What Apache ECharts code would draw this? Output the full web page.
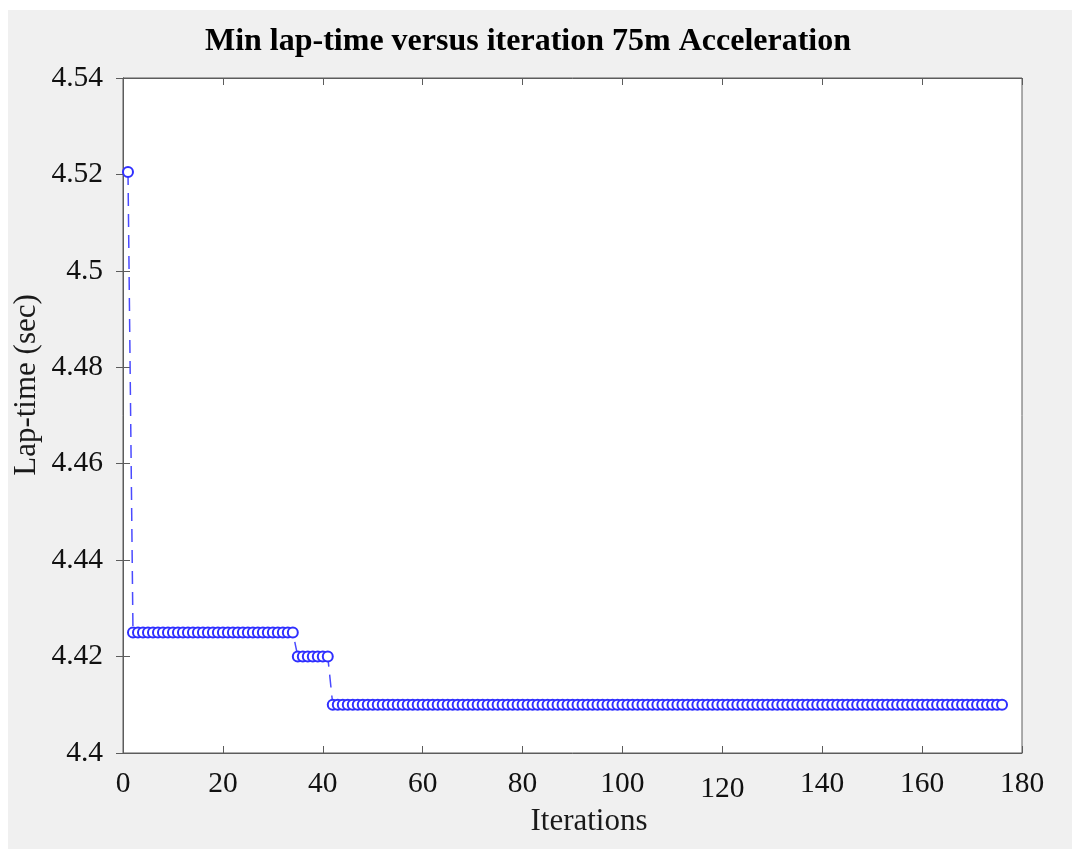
<!DOCTYPE html>
<html>
<head>
<meta charset="utf-8">
<script src="https://cdn.jsdelivr.net/npm/echarts@6/dist/echarts.min.js"></script>
<style>
  html, body { margin: 0; padding: 0; background: #ffffff; }
  #chart { position: absolute; left: 8px; top: 10px; width: 1064px; height: 839px; }
</style>
</head>
<body>
<div id="chart"></div>
<script>
// Best lap time found so far at each optimiser iteration (75 m acceleration event)
const chartTitle = 'Min lap-time versus iteration 75m Acceleration';
const xAxisTitle = 'Iterations';
const yAxisTitle = 'Lap-time (sec)';

const xTicks = [0, 20, 40, 60, 80, 100, 120, 140, 160, 180];
const yTickLabels = ['4.4', '4.42', '4.44', '4.46', '4.48', '4.5', '4.52', '4.54'];

const lapTime = [
  4.5205,
  4.425, 4.425, 4.425, 4.425, 4.425, 4.425, 4.425, 4.425, 4.425, 4.425, 4.425,
  4.425, 4.425, 4.425, 4.425, 4.425, 4.425, 4.425, 4.425, 4.425, 4.425, 4.425,
  4.425, 4.425, 4.425, 4.425, 4.425, 4.425, 4.425, 4.425, 4.425, 4.425, 4.425,
  4.42, 4.42, 4.42, 4.42, 4.42, 4.42, 4.42,
  4.41, 4.41, 4.41, 4.41, 4.41, 4.41, 4.41, 4.41, 4.41, 4.41, 4.41, 4.41, 4.41, 4.41, 4.41,
  4.41, 4.41, 4.41, 4.41, 4.41, 4.41, 4.41, 4.41, 4.41, 4.41, 4.41, 4.41, 4.41, 4.41, 4.41,
  4.41, 4.41, 4.41, 4.41, 4.41, 4.41, 4.41, 4.41, 4.41, 4.41, 4.41, 4.41, 4.41, 4.41, 4.41,
  4.41, 4.41, 4.41, 4.41, 4.41, 4.41, 4.41, 4.41, 4.41, 4.41, 4.41, 4.41, 4.41, 4.41, 4.41,
  4.41, 4.41, 4.41, 4.41, 4.41, 4.41, 4.41, 4.41, 4.41, 4.41, 4.41, 4.41, 4.41, 4.41, 4.41,
  4.41, 4.41, 4.41, 4.41, 4.41, 4.41, 4.41, 4.41, 4.41, 4.41, 4.41, 4.41, 4.41, 4.41, 4.41,
  4.41, 4.41, 4.41, 4.41, 4.41, 4.41, 4.41, 4.41, 4.41, 4.41, 4.41, 4.41, 4.41, 4.41, 4.41,
  4.41, 4.41, 4.41, 4.41, 4.41, 4.41, 4.41, 4.41, 4.41, 4.41, 4.41, 4.41, 4.41, 4.41, 4.41,
  4.41, 4.41, 4.41, 4.41, 4.41, 4.41, 4.41, 4.41, 4.41, 4.41, 4.41, 4.41, 4.41, 4.41, 4.41
];

// iteration numbers start at 1
const points = lapTime.map((v, i) => [i + 1, v]);

const FONT = '"Liberation Serif", "Times New Roman", serif';
const AXIS_COLOR = '#5c5c5c';
const LABEL_SIZE = 29.5;
const NAME_SIZE = 31;

const yMin = Number(yTickLabels[0]);
const yMax = Number(yTickLabels[yTickLabels.length - 1]);
const yStep = 0.02;

const commonTick = { show: true, inside: true, length: 7, lineStyle: { color: AXIS_COLOR, width: 1 } };
const commonLine = { show: true, lineStyle: { color: AXIS_COLOR, width: 1 } };

const chart = echarts.init(document.getElementById('chart'), null, { renderer: 'canvas' });

chart.setOption({
  backgroundColor: '#f0f0f0',
  animation: false,
  grid: {
    left: 115, right: 50, top: 68, bottom: 96,
    show: true, backgroundColor: '#ffffff', borderColor: AXIS_COLOR, borderWidth: 1
  },
  graphic: [
    {
      type: 'text', x: 520, y: 32,
      style: {
        text: chartTitle, fill: '#000', align: 'center', verticalAlign: 'middle',
        font: 'bold 32px ' + FONT
      }
    },
    {
      type: 'text', x: 581, y: 812,
      style: {
        text: xAxisTitle, fill: '#1a1a1a', align: 'center', verticalAlign: 'middle',
        font: NAME_SIZE + 'px ' + FONT
      }
    },
    {
      type: 'text', x: 19, y: 375, rotation: Math.PI / 2,
      style: {
        text: yAxisTitle, fill: '#1a1a1a', align: 'center', verticalAlign: 'middle',
        font: NAME_SIZE + 'px ' + FONT
      }
    }
  ],
  xAxis: [
    {
      type: 'value', position: 'bottom',
      min: xTicks[0], max: xTicks[xTicks.length - 1], interval: xTicks[1] - xTicks[0],
      axisLine: commonLine, axisTick: commonTick, splitLine: { show: false },
      axisLabel: {
        margin: 16, color: '#111', fontFamily: FONT, fontSize: LABEL_SIZE,
        formatter: v => (v === 120 ? '{low|' + v + '}' : String(v)),
        rich: { low: { fontFamily: FONT, fontSize: LABEL_SIZE, color: '#111', padding: [5, 0, 0, 0] } }
      }
    },
    {
      type: 'value', position: 'top',
      min: xTicks[0], max: xTicks[xTicks.length - 1], interval: xTicks[1] - xTicks[0],
      axisLine: commonLine, axisTick: commonTick, axisLabel: { show: false }, splitLine: { show: false }
    }
  ],
  yAxis: [
    {
      type: 'value', position: 'left', min: yMin, max: yMax, interval: yStep,
      axisLine: commonLine, axisTick: commonTick, splitLine: { show: false },
      axisLabel: {
        margin: 20, color: '#111', fontFamily: FONT, fontSize: LABEL_SIZE,
        formatter: v => yTickLabels[Math.round((v - yMin) / yStep)]
      }
    },
    {
      type: 'value', position: 'right', min: yMin, max: yMax, interval: yStep,
      axisLine: commonLine, axisTick: commonTick, axisLabel: { show: false }, splitLine: { show: false }
    }
  ],
  series: [
    {
      type: 'line',
      xAxisIndex: 0, yAxisIndex: 0,
      data: points,
      symbol: 'emptyCircle',
      symbolSize: 10,
      showAllSymbol: true,
      itemStyle: { color: '#2f2fff', borderColor: '#3030ff', borderWidth: 1.5 },
      lineStyle: { color: '#4a4aff', width: 1.5, type: [13, 8] }
    }
  ]
});
</script>
</body>
</html>
